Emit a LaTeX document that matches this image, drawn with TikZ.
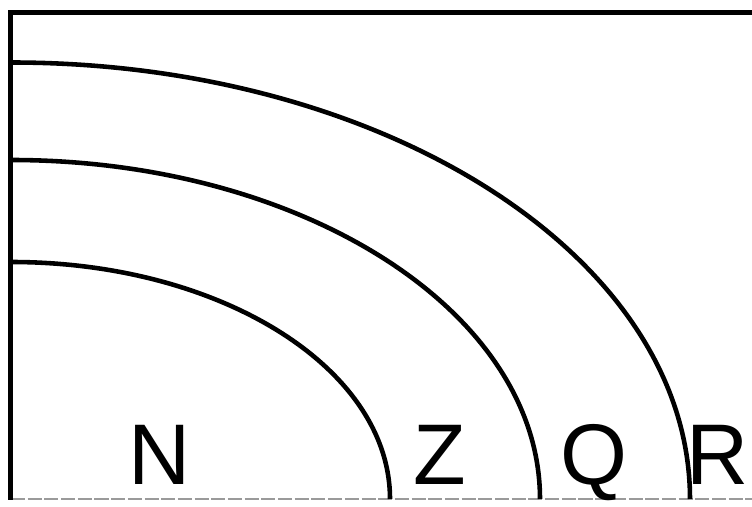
\documentclass[tikz,border=0pt]{standalone}
\usepackage{fontspec}
\setmainfont{Liberation Sans}
\definecolor{scanGray}{HTML}{9A9A9A}
\tikzset{
  zoneline/.style={line width=2.6pt},
  frameline/.style={line width=2.8pt},
  zonelabel/.style={anchor=base, inner sep=0pt, font=\fontsize{49}{50}\selectfont}
}
\begin{document}
\begin{tikzpicture}[x=0.02cm, y=0.02cm]
    \useasboundingbox (0,0) rectangle (752,507);
    \coordinate (ctr) at (11,8);
    \draw[scanGray, line width=0.9pt, dash pattern=on 8pt off 1.5pt] (ctr) -- (752,8);
    \draw[frameline] (10.5,7) -- (10.5,494.5) -- (752,494.5);
    \foreach \rx/\ry in {379/237, 529/339, 679/436.5}
        \draw[zoneline] (ctr) ++(0,\ry) arc[start angle=90, end angle=0, x radius=\rx, y radius=\ry];
    \node[zonelabel] (labN) at (160,22) {N};
    \node[zonelabel] (labZ) at (440,22) {Z};
    \node[zonelabel] (labQ) at (594,22) {Q};
    \node[zonelabel] (labR) at (718,22) {R};
\end{tikzpicture}
\end{document}
